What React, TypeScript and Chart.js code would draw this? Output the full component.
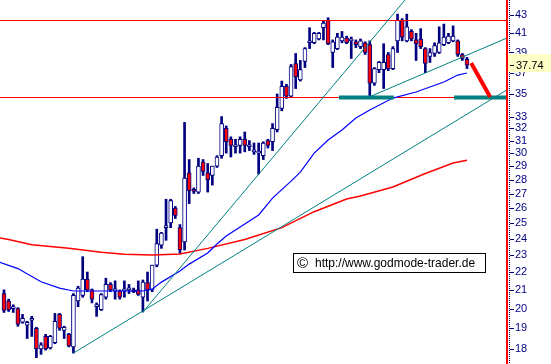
import React, { useEffect, useRef } from "react";
import { Chart, registerables } from "chart.js";

Chart.register(...registerables);

// ---- Candles (daily OHLC, oldest first) ----
const opens = [
  20.8, 20.4, 20.0, 20.0, 19.3, 19.15, 19.4, 19.0, 18.0, 18.6,
  18.05, 18.3, 19.7, 18.9, 18.7, 18.1, 20.4, 20.7, 21.6, 21.0,
  20.1, 19.95, 20.6, 21.3, 20.95, 20.95, 20.95, 21.0, 21.0, 21.0,
  20.6, 21.4, 21.0, 22.4, 23.6, 24.7, 25.0, 26.0, 24.7, 23.8,
  28.5, 27.2, 27.1, 29.3, 28.5, 28.3, 29.0, 29.8, 32.0, 31.1,
  30.5, 30.6, 31.1, 30.5, 30.1, 30.0, 29.8, 31.0, 30.9, 31.9,
  33.7, 35.7, 34.8, 37.9, 36.3, 38.1, 40.0, 40.0, 40.4, 41.6,
  42.45, 39.0, 39.4, 40.2, 40.5, 40.2, 40.1, 39.6, 40.0, 39.8,
  36.0, 37.3, 37.3, 38.8, 37.4, 40.2, 42.4, 40.2, 41.2, 40.3,
  40.4, 39.4, 38.6, 38.9, 39.0, 39.8, 40.0, 40.2, 40.2, 38.8,
  38.3,
];
const highs = [
  21.0, 20.5, 20.2, 20.05, 19.7, 19.35, 19.6, 19.05, 18.3, 18.7,
  18.65, 19.75, 19.75, 19.1, 18.75, 20.8, 21.2, 22.9, 22.0, 21.05,
  20.3, 20.8, 21.65, 21.4, 21.5, 21.0, 21.5, 21.3, 21.1, 21.5,
  21.55, 22.0, 22.4, 24.6, 24.4, 26.6, 26.6, 26.1, 24.9, 32.5,
  29.5, 27.4, 29.6, 29.5, 29.2, 29.0, 29.8, 33.0, 32.2, 31.3,
  31.1, 31.3, 31.7, 31.0, 30.8, 30.8, 30.9, 31.1, 32.4, 35.0,
  36.2, 35.9, 37.8, 38.9, 38.2, 39.5, 41.6, 41.1, 41.1, 42.4,
  42.7, 40.3, 41.0, 41.2, 40.7, 40.6, 40.3, 40.4, 40.1, 40.2,
  37.5, 38.1, 39.9, 39.0, 39.6, 43.1, 42.6, 43.1, 41.4, 41.0,
  41.5, 39.5, 39.4, 40.0, 41.7, 42.0, 41.0, 41.8, 40.3, 38.9,
  38.5,
];
const lows = [
  19.8, 19.85, 19.8, 19.1, 19.25, 18.5, 18.6, 17.6, 17.75, 17.95,
  18.0, 18.25, 18.9, 18.5, 18.1, 17.81, 20.1, 20.6, 20.9, 20.3,
  19.6, 19.9, 20.5, 20.9, 20.5, 20.5, 20.6, 20.8, 20.85, 20.7,
  19.82, 20.4, 20.9, 22.3, 23.4, 23.9, 24.7, 25.3, 23.1, 23.3,
  26.3, 27.0, 27.0, 28.3, 27.1, 27.6, 28.9, 29.6, 30.0, 29.7,
  30.0, 30.0, 30.1, 30.2, 29.9, 28.4, 29.5, 30.4, 30.2, 31.7,
  33.5, 34.6, 34.7, 35.5, 36.2, 37.5, 39.4, 39.9, 40.3, 40.3,
  39.8, 37.5, 39.3, 40.0, 39.9, 38.4, 39.5, 39.4, 38.8, 34.85,
  35.8, 37.0, 35.5, 37.2, 37.3, 39.0, 40.2, 40.1, 40.2, 38.2,
  39.4, 37.0, 38.0, 38.6, 38.9, 39.7, 39.9, 40.1, 38.6, 38.2,
  37.4,
];
const closes = [
  19.9, 19.95, 20.05, 19.2, 19.5, 19.3, 19.4, 18.0, 18.2, 18.0,
  18.6, 19.35, 19.0, 19.05, 18.15, 20.7, 21.1, 21.6, 21.0, 20.5,
  20.2, 20.75, 21.3, 21.0, 20.95, 20.6, 20.95, 21.0, 20.9, 20.75,
  21.43, 21.0, 22.4, 23.7, 24.35, 24.75, 26.5, 25.5, 23.3, 28.1,
  27.2, 27.15, 29.0, 28.6, 28.0, 29.0, 29.7, 32.4, 30.9, 30.6,
  30.55, 31.1, 30.6, 30.55, 30.1, 30.0, 30.8, 30.6, 32.0, 33.8,
  35.7, 34.8, 37.6, 36.6, 37.3, 39.4, 40.1, 41.0, 41.0, 42.1,
  39.9, 40.1, 40.6, 40.6, 40.0, 40.2, 39.8, 40.2, 39.0, 36.0,
  37.4, 38.0, 38.0, 37.4, 39.4, 42.4, 40.6, 41.7, 40.4, 39.9,
  39.6, 37.9, 39.0, 39.7, 40.0, 40.6, 40.7, 40.7, 38.8, 38.4,
  37.74,
];
const lastPrice = 37.74;

// ---- Moving averages (candle index, value) ----
const ma200Idx = [-1, 1, 6, 14, 21, 26, 32, 38, 44, 52, 60, 67, 74, 77, 84, 91, 97, 100];
const ma200Val = [24.05, 23.95, 23.62, 23.41, 23.17, 23.05, 23.0, 23.06, 23.4, 23.95, 24.7, 25.75, 26.61, 26.82, 27.46, 28.45, 29.23, 29.45];
const ma50Idx = [-1, 3, 8, 12, 15, 23, 30, 32, 34, 38, 40, 44, 46, 48, 51, 55, 58, 62, 64, 67, 70, 73, 76, 79, 84, 89, 95, 98, 100];
const ma50Val = [22.58, 22.2, 21.45, 21.1, 20.94, 20.94, 20.94, 21.04, 21.43, 22.06, 22.46, 23.12, 23.67, 24.17, 24.74, 25.53, 26.68, 27.89, 28.55, 30.0, 31.04, 31.86, 32.87, 33.57, 34.63, 35.18, 36.11, 36.77, 36.97];

// ---- Drawn analysis lines ----
const xMin = -0.864;
const xMax = 108.64;
const resistanceLevels = [42.39, 34.68];
const trendAIdx = [15, 108.64];
const trendAVal = [17.81, 35.38];
const trendBIdx = [30, 88.42];
const trendBVal = [19.82, 45.9];
const trendDIdx = [79, 108.64];
const trendDVal = [34.75, 40.5];
const support1Idx = [72.35, 84.2];
const support2Idx = [97.2, 108.64];
const supportVal = 34.68;
const arrowIdx = [100.9, 105.0];
const arrowVal = [37.94, 34.72];

// ---- Axis ----
const yMin = 17.31;
const yMax = 44.72;
const yTicks = [18, 19, 20, 21, 22, 23, 24, 25, 26, 27, 28, 29, 30, 31, 32, 33, 35, 37, 39, 41, 43];
const copyright = "http://www.godmode-trader.de";

const NAVY = "#000080";
const RED = "#ff0000";
const TEAL = "#008080";
const BLUE = "#0000ff";
const FONT = '"Liberation Sans", Arial, Helvetica, sans-serif';

export default function App() {
  const canvasRef = useRef<HTMLCanvasElement | null>(null);

  useEffect(() => {
    const canvas = canvasRef.current;
    if (!canvas) return;
    const idx = closes.map((_, i) => i);
    const pts = (xs: number[], ys: number[]) => xs.map((x, k) => ({ x, y: ys[k] }));
    const lineDs = (label: string, data: any[], color: string, width: number, order = 0) => ({
      type: "line" as const,
      label,
      data,
      borderColor: color,
      backgroundColor: color,
      borderWidth: width,
      pointRadius: 0,
      fill: false,
      tension: 0,
      order,
    });

    const decor = {
      id: "decor",
      afterDraw(chart: any) {
        const { ctx, chartArea, scales } = chart;
        const ys = scales.y;
        const r = chartArea.right;
        const h = chart.height;
        ctx.save();
        // red axis line
        ctx.fillStyle = RED;
        ctx.fillRect(r - 1, 0, 2, h);
        // dotted navy line
        ctx.fillStyle = NAVY;
        for (let py = 0; py < h; py += 2) ctx.fillRect(r + 2, py, 1, 1);
        // tick dashes
        yTicks.forEach((v) => {
          const py = Math.round(ys.getPixelForValue(v));
          ctx.fillRect(r + 3, py, 4, 1);
        });
        // last price box
        const lp = ys.getPixelForValue(lastPrice);
        ctx.fillStyle = "#ffffc8";
        ctx.fillRect(r + 1, Math.round(lp) - 11, chart.width - r, 18);
        ctx.fillStyle = "#000000";
        ctx.fillRect(r + 3, Math.round(lp), 4, 1);
        ctx.font = `11px ${FONT}`;
        ctx.textBaseline = "middle";
        ctx.textAlign = "left";
        ctx.fillText(lastPrice.toFixed(2), r + 9, lp + 1);
        // copyright box
        const bx = 293, by = 253, bw = 193, bh = 20;
        ctx.fillStyle = "#ffffff";
        ctx.fillRect(bx, by, bw, bh);
        ctx.strokeStyle = "#000000";
        ctx.lineWidth = 1;
        ctx.strokeRect(bx + 0.5, by + 0.5, bw - 1, bh - 1);
        ctx.fillStyle = "#000000";
        ctx.font = `15px ${FONT}`;
        ctx.fillText("©", bx + 4, by + bh / 2 + 1);
        ctx.font = `12px ${FONT}`;
        ctx.fillText(copyright, bx + 22, by + bh / 2 + 1);
        ctx.restore();
      },
    };

    const chart = new Chart(canvas, {
      type: "bar",
      data: {
        datasets: [
          lineDs("Pfeil", pts(arrowIdx, arrowVal), RED, 4, 0),
          lineDs("Unterstützung 1", pts(support1Idx, [supportVal, supportVal]), TEAL, 4, 0),
          lineDs("Unterstützung 2", pts(support2Idx, [supportVal, supportVal]), TEAL, 4, 0),
          lineDs("Trend A", pts(trendAIdx, trendAVal), TEAL, 1, 0),
          lineDs("Trend B", pts(trendBIdx, trendBVal), TEAL, 1, 0),
          lineDs("Trend D", pts(trendDIdx, trendDVal), TEAL, 1, 0),
          lineDs("GD 50", pts(ma50Idx, ma50Val), BLUE, 1.2, 0),
          lineDs("GD 200", pts(ma200Idx, ma200Val), RED, 1.5, 0),
          lineDs("Widerstand", pts([xMin, xMax], [resistanceLevels[0], resistanceLevels[0]]), RED, 1, 0),
          lineDs("Unterstützung", pts([xMin, xMax], [resistanceLevels[1], resistanceLevels[1]]), RED, 1, 0),
          {
            type: "bar" as const,
            label: "Körper",
            data: idx.map((i) => ({ x: i, y: [Math.min(opens[i], closes[i]), Math.max(opens[i], closes[i])] })) as any,
            backgroundColor: idx.map((i) => (closes[i] < opens[i] ? RED : "#ffffff")),
            borderColor: NAVY,
            borderWidth: 1,
            borderSkipped: false,
            barThickness: 4,
            minBarLength: 2,
            grouped: false,
            order: 1,
          },
          {
            type: "bar" as const,
            label: "Docht",
            data: idx.map((i) => ({ x: i, y: [lows[i], highs[i]] })) as any,
            backgroundColor: NAVY,
            borderWidth: 0,
            barThickness: 2,
            grouped: false,
            order: 2,
          },
        ] as any,
      },
      options: {
        responsive: false,
        animation: false,
        events: [],
        layout: { padding: 0 },
        plugins: {
          legend: { display: false },
          tooltip: { enabled: false },
          title: { display: false },
        },
        scales: {
          x: {
            type: "linear",
            display: false,
            min: xMin,
            max: xMax,
            offset: false,
            grid: { display: false },
          },
          y: {
            type: "logarithmic",
            position: "right",
            min: yMin,
            max: yMax,
            grid: { display: false, drawTicks: false },
            border: { display: false },
            ticks: {
              autoSkip: false,
              padding: 8,
              color: NAVY,
              font: { family: FONT, size: 11 },
              callback: (v: any) => String(v),
            },
            afterBuildTicks: (s: any) => {
              s.ticks = yTicks.map((v) => ({ value: v }));
            },
            afterFit: (s: any) => {
              s.width = 44;
              s.paddingTop = 0;
              s.paddingBottom = 0;
            },
          },
        },
      } as any,
      plugins: [decor],
    });
    return () => chart.destroy();
  }, []);

  return (
    <div style={{ position: "absolute", left: 0, top: 0, width: 551, height: 364, background: "#ffffff" }}>
      <canvas ref={canvasRef} width={551} height={364} style={{ display: "block" }} />
    </div>
  );
}
